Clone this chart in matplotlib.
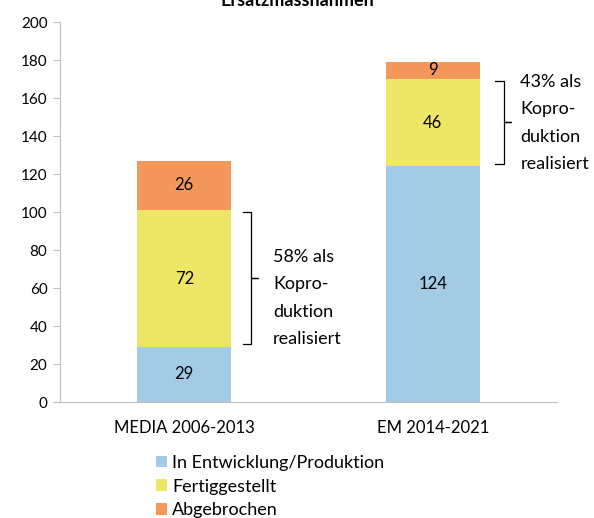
import numpy as np
import matplotlib.pyplot as plt

# data -------------------------
categories = ['MEDIA 2006-2013', 'EM 2014-2021']
in_entwicklung = [29, 124]
fertig = [72, 46]
abgebrochen = [26, 9]
series_names = ['In Entwicklung/Produktion', 'Fertiggestellt', 'Abgebrochen']
notes = ['58% als\nKopro-\nduktion\nrealisiert', '43% als\nKopro-\nduktion\nrealisiert']
#------------------------------

plt.rcParams['font.family'] = ['Lato', 'DejaVu Sans']
plt.rcParams['font.size'] = 11

c_blue = '#A3CBE5'
c_yellow = '#EDE666'
c_orange = '#F4975A'
c_axis = '#BFBFBF'

fig = plt.figure(figsize=(5.94, 5.18), dpi=100)
ax = fig.add_axes([60/594, 1-402/518, 497/594, 380/518])

x = np.arange(len(categories))
w = 0.38
b1 = np.array(in_entwicklung)
b2 = b1 + np.array(fertig)
ax.bar(x, in_entwicklung, w, color=c_blue, label=series_names[0])
ax.bar(x, fertig, w, bottom=b1, color=c_yellow, label=series_names[1])
ax.bar(x, abgebrochen, w, bottom=b2, color=c_orange, label=series_names[2])

# value labels
for i in range(len(x)):
    ax.text(x[i], in_entwicklung[i]/2, str(in_entwicklung[i]), ha='center', va='center', fontsize=12)
    ax.text(x[i], b1[i] + fertig[i]/2, str(fertig[i]), ha='center', va='center', fontsize=12)
    ax.text(x[i], b2[i] + abgebrochen[i]/2, str(abgebrochen[i]), ha='center', va='center', fontsize=12)

# braces next to the Fertiggestellt segment
note_shift = [-10.5, -0.5]   # text offset from brace tip (value units)
brace_gap = [0.045, 0.06]
for i in range(len(x)):
    lo, hi = b1[i] + 1.5, b2[i] - 1
    mid = (lo + hi) / 2
    x0 = x[i] + w/2 + brace_gap[i]
    x1 = x0 + 0.035
    x2 = x1 + 0.028
    ax.plot([x0, x1, x1, x2, x1, x1, x0], [hi, hi, mid, mid, mid, lo, lo],
            color='black', lw=0.9, clip_on=False)
    ax.text(x2 + 0.06 - 0.02*i, mid + note_shift[i], notes[i], ha='left', va='center',
            fontsize=13, linespacing=1.88)

ax.set_xlim(-0.5, 1.5)
ax.set_ylim(0, 200)
ax.set_yticks(np.arange(0, 201, 20))
ax.set_xticks(x)
ax.set_xticklabels(categories)
ax.tick_params(axis='y', length=5, color=c_axis, labelsize=11, pad=4)
ax.tick_params(axis='x', length=0, labelsize=12, pad=13)
for s in ['top', 'right']:
    ax.spines[s].set_visible(False)
ax.spines['left'].set_color(c_axis)
ax.spines['bottom'].set_color(c_axis)
ax.spines['bottom'].set_bounds(-0.528, 1.5)

fig.text(0.5, 1.0, 'Ersatzmassnahmen', ha='center', va='center', fontsize=13, fontweight='bold')

ax.legend(loc='upper left', bbox_to_anchor=(156/594, 1-455/518), bbox_transform=fig.transFigure,
          frameon=False, handlelength=0.6, handleheight=0.6, handletextpad=0.3,
          labelspacing=0.42, fontsize=13, borderaxespad=0, borderpad=0)

fig.savefig('out.png', dpi=100)
